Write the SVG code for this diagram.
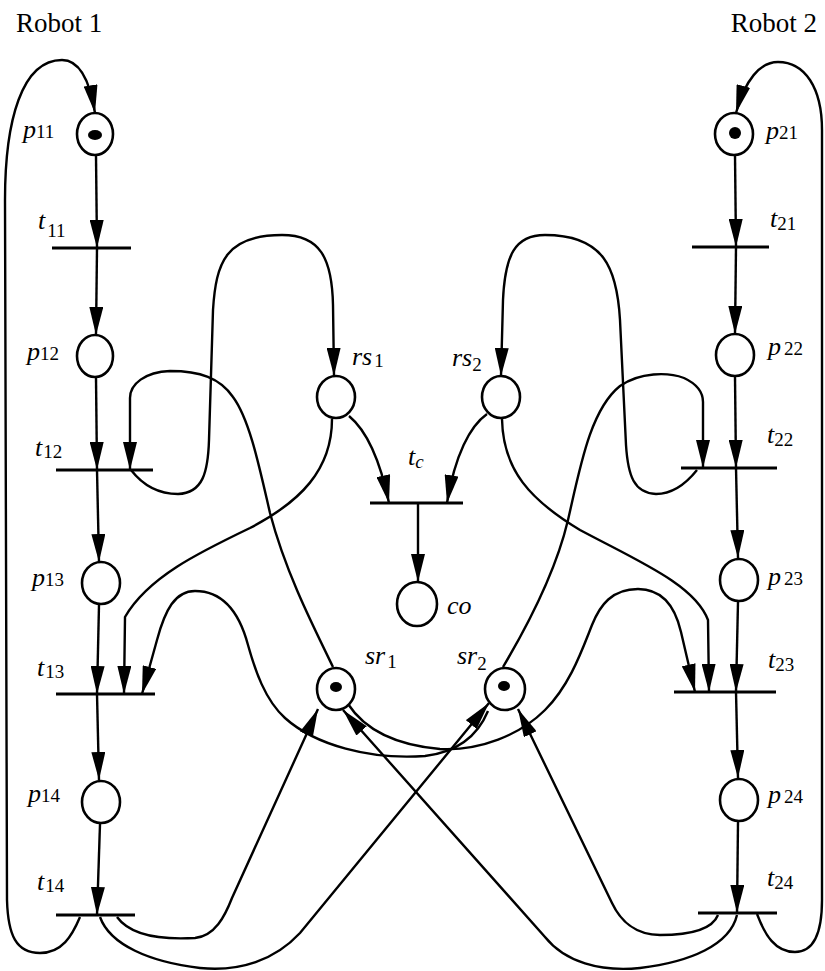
<svg xmlns="http://www.w3.org/2000/svg" width="825" height="971" viewBox="0 0 825 971">
  <style>
    .place { fill: #fff; stroke: #000; stroke-width: 2.6; }
    .token { fill: #000; }
    .bar { stroke: #000; stroke-width: 3; fill: none; }
    .arc-a { fill: none; stroke: #000; stroke-width: 2.4; marker-end: url(#ah); }
    .lbl { font-family: "Liberation Serif", "Times New Roman", serif; font-style: italic; font-size: 26px; fill: #000; }
    .sub { font-style: normal; font-size: 19px; }
    .sub-i { font-style: italic; font-size: 19px; }
    .title { font-family: "Liberation Serif", "Times New Roman", serif; font-size: 27px; fill: #000; }
  </style>
  <defs>
    <marker id="ah" markerUnits="userSpaceOnUse" markerWidth="28" markerHeight="14" refX="28" refY="7" orient="auto">
      <path d="M0,0 L28,7 L0,14 z" fill="#000"/>
    </marker>
  </defs>

  <rect width="825" height="971" fill="#fff"/>

  <text class="title" x="16" y="32">Robot 1</text>
  <text class="title" x="817" y="32" text-anchor="end">Robot 2</text>

  <!-- arcs -->
  <g id="connectors">
    <!-- robot 1 chain -->
    <path class="arc-a" d="M96 156 L97 248"/>
    <path class="arc-a" d="M97 248 L96 335"/>
    <path class="arc-a" d="M96 378 L97 470"/>
    <path class="arc-a" d="M97 470 L99 562"/>
    <path class="arc-a" d="M99 605 L97 694"/>
    <path class="arc-a" d="M97 694 L99 780"/>
    <path class="arc-a" d="M100 824 L97 915"/>
    <!-- robot 2 chain -->
    <path class="arc-a" d="M735 155 L736 247"/>
    <path class="arc-a" d="M736 247 L735 334"/>
    <path class="arc-a" d="M735 377 L736 468"/>
    <path class="arc-a" d="M736 468 L738 558"/>
    <path class="arc-a" d="M738 602 L736 692"/>
    <path class="arc-a" d="M736 692 L738 778"/>
    <path class="arc-a" d="M738 822 L737 913"/>

    <!-- return loops -->
    <path class="arc-a" d="M80 917 C72 936 62 953 40 953 C16 953 8 935 7 900 L5 200 C5 120 22 60 62 60 C80 60 90 82 95 113"/>
    <path class="arc-a" d="M757 914 C765 935 775 952 795 952 C815 952 822 930 822 900 L822 130 C822 88 805 62 778 62 C760 62 745 80 736 113"/>

    <!-- t12 -> rs1, sr1 -> t12 -->
    <path class="arc-a" d="M131 470 C145 488 162 494 178 494 C203 493 208 472 209 440 L213 310 C216 262 226 235 282 235 C320 235 332 258 333 305 L334 376"/>
    <path class="arc-a" d="M333 667 C310 620 285 570 270 513 C260 470 250 420 233 397 C220 378 200 371 170 371 C145 372 130 384 130 398 L130 470"/>
    <!-- rs1 -> t13, rs1 -> tc -->
    <path class="arc-a" d="M332 419 C332 470 300 502 250 528 C200 552 148 577 125 617 L124 694"/>
    <path class="arc-a" d="M349 416 C366 430 380 460 389 503"/>

    <!-- t22 -> rs2, sr2 -> t22 -->
    <path class="arc-a" d="M697 470 C685 485 672 494 656 494 C634 493 628 476 626 445 L620 320 C617 268 604 235 545 235 C515 235 505 255 503 300 L501 376"/>
    <path class="arc-a" d="M503 667 C525 630 555 575 568 520 C580 468 590 410 620 386 C640 372 668 372 684 378 C699 385 703 394 703 402 L703 468"/>
    <!-- rs2 -> t23, rs2 -> tc -->
    <path class="arc-a" d="M502 419 C503 470 530 500 580 530 C640 562 695 585 708 620 L709 692"/>
    <path class="arc-a" d="M487 414 C470 426 455 455 447 503"/>

    <!-- tc -> co -->
    <path class="arc-a" d="M418 503 L418 582"/>

    <!-- sr2 -> t13, sr1 -> t23 -->
    <path class="arc-a" d="M488 711 C478 735 458 752 425 756 C370 760 315 745 285 718 C265 700 255 670 248 645 C240 615 225 591 195 591 C175 591 165 610 157 640 L142 694"/>
    <path class="arc-a" d="M348 704 C365 730 395 745 440 749 C480 751 520 735 545 710 C570 685 582 650 592 625 C600 605 612 589 638 589 C662 589 675 606 681 632 L695 692"/>

    <!-- t14 -> sr1, t14 -> sr2 -->
    <path class="arc-a" d="M117 917 C130 935 160 940 195 938 C215 936 225 916 232 898 L318 709"/>
    <path class="arc-a" d="M100 917 C110 945 150 962 200 968 C240 972 275 960 300 933 L489 703"/>
    <!-- t24 -> sr2, t24 -> sr1 -->
    <path class="arc-a" d="M718 915 C712 930 690 935 660 935 C635 935 620 920 612 903 L518 709"/>
    <path class="arc-a" d="M737 915 C730 945 690 962 640 968 C600 972 565 962 545 937 L343 710"/>
  </g>

  <!-- robot 1 places -->
  <g id="p11"><ellipse class="place" cx="95" cy="134" rx="18" ry="21"/><ellipse class="token" cx="95" cy="135" rx="7" ry="5"/>
    <text class="lbl" x="23" y="138">p<tspan class="sub">11</tspan></text></g>
  <g id="p12"><ellipse class="place" cx="95" cy="356" rx="18" ry="21"/>
    <text class="lbl" x="27" y="360">p<tspan class="sub">12</tspan></text></g>
  <g id="p13"><ellipse class="place" cx="101" cy="583" rx="19" ry="21"/>
    <text class="lbl" x="32" y="586">p<tspan class="sub">13</tspan></text></g>
  <g id="p14"><ellipse class="place" cx="101" cy="802" rx="19" ry="21"/>
    <text class="lbl" x="28" y="802">p<tspan class="sub">14</tspan></text></g>

  <!-- robot 1 transitions -->
  <g id="t11"><line class="bar" x1="52" y1="248" x2="131" y2="248"/>
    <text class="lbl" x="38" y="229">t<tspan class="sub" dx="2" dy="8">11</tspan></text></g>
  <g id="t12"><line class="bar" x1="56" y1="470" x2="153" y2="470"/>
    <text class="lbl" x="35" y="456">t<tspan class="sub" dx="1" dy="2">12</tspan></text></g>
  <g id="t13"><line class="bar" x1="56" y1="694" x2="155" y2="694"/>
    <text class="lbl" x="37" y="676">t<tspan class="sub" dx="1" dy="2">13</tspan></text></g>
  <g id="t14"><line class="bar" x1="56" y1="915" x2="135" y2="915"/>
    <text class="lbl" x="37" y="890">t<tspan class="sub" dx="1" dy="2">14</tspan></text></g>

  <!-- robot 2 places -->
  <g id="p21"><ellipse class="place" cx="734" cy="134" rx="19" ry="21"/><circle class="token" cx="735" cy="133" r="6"/>
    <text class="lbl" x="766" y="139">p<tspan class="sub">21</tspan></text></g>
  <g id="p22"><ellipse class="place" cx="735" cy="355" rx="19" ry="21"/>
    <text class="lbl" x="768" y="355">p<tspan class="sub" dx="3">22</tspan></text></g>
  <g id="p23"><ellipse class="place" cx="739" cy="580" rx="19" ry="21"/>
    <text class="lbl" x="768" y="585">p<tspan class="sub" dx="3">23</tspan></text></g>
  <g id="p24"><ellipse class="place" cx="739" cy="800" rx="19" ry="21"/>
    <text class="lbl" x="768" y="803">p<tspan class="sub" dx="3">24</tspan></text></g>

  <!-- robot 2 transitions -->
  <g id="t21"><line class="bar" x1="692" y1="247" x2="769" y2="247"/>
    <text class="lbl" x="770" y="227">t<tspan class="sub" dy="3">21</tspan></text></g>
  <g id="t22"><line class="bar" x1="681" y1="468" x2="777" y2="468"/>
    <text class="lbl" x="767" y="443">t<tspan class="sub" dy="3">22</tspan></text></g>
  <g id="t23"><line class="bar" x1="674" y1="692" x2="776" y2="692"/>
    <text class="lbl" x="768" y="668">t<tspan class="sub" dy="3">23</tspan></text></g>
  <g id="t24"><line class="bar" x1="698" y1="913" x2="777" y2="913"/>
    <text class="lbl" x="767" y="886">t<tspan class="sub" dy="3">24</tspan></text></g>

  <!-- shared resources -->
  <g id="rs1"><ellipse class="place" cx="336" cy="397" rx="19" ry="21"/>
    <text class="lbl" x="352" y="365">rs<tspan class="sub" dx="2" dy="2">1</tspan></text></g>
  <g id="rs2"><ellipse class="place" cx="501" cy="397" rx="19" ry="21"/>
    <text class="lbl" x="452" y="366">rs<tspan class="sub" dy="5">2</tspan></text></g>
  <g id="tc"><line class="bar" x1="370" y1="503" x2="463" y2="503"/>
    <text class="lbl" x="408" y="465">t<tspan class="sub-i" dy="3">c</tspan></text></g>
  <g id="co"><ellipse class="place" cx="417" cy="604" rx="20" ry="22"/>
    <text class="lbl" x="447" y="614">co</text></g>
  <g id="sr1"><ellipse class="place" cx="336" cy="689" rx="19" ry="21"/><ellipse class="token" cx="336" cy="687" rx="6" ry="5"/>
    <text class="lbl" x="365" y="664">sr<tspan class="sub" dx="2" dy="4">1</tspan></text></g>
  <g id="sr2"><ellipse class="place" cx="505" cy="689" rx="20" ry="21"/><ellipse class="token" cx="504" cy="686" rx="6" ry="5"/>
    <text class="lbl" x="457" y="664">sr<tspan class="sub" dy="6">2</tspan></text></g>
</svg>
